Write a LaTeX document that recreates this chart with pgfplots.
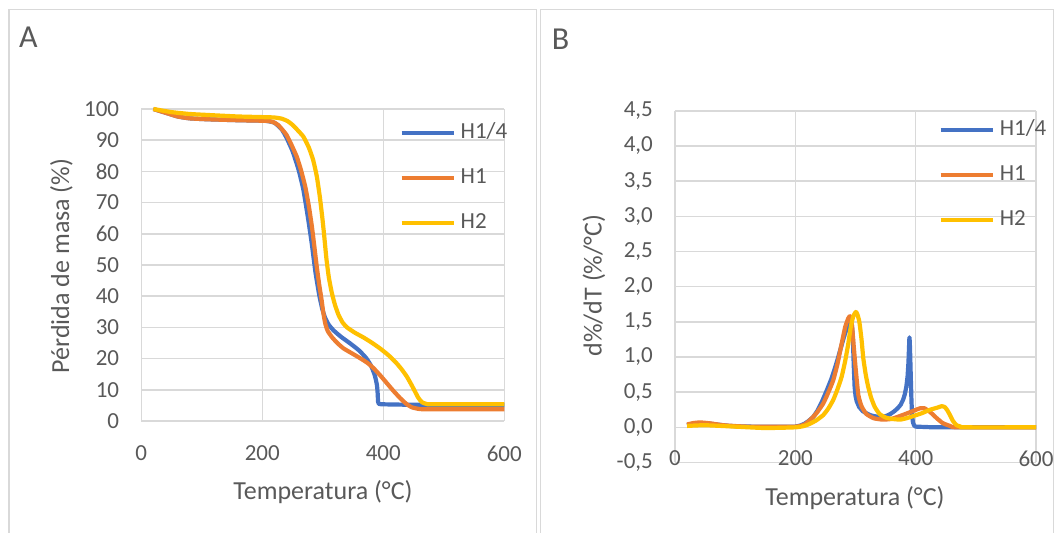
\documentclass[border=0pt]{standalone}
\usepackage{pgfplots}
\pgfplotsset{compat=1.18}
\usepackage{fontspec}
\setmainfont{Carlito}
\definecolor{cblue}{HTML}{4472C4}
\definecolor{corange}{HTML}{ED7D31}
\definecolor{cyellow}{HTML}{FFC000}
\definecolor{ctext}{HTML}{595959}
\definecolor{cgrid}{HTML}{D9D9D9}
\newcommand{\tickfont}{\fontsize{23bp}{27bp}\selectfont}
\newcommand{\titlefont}{\fontsize{26bp}{30bp}\selectfont}
\pgfplotsset{
  excel/.style={
    scale only axis,
    anchor=south west,
    clip=false,
    axis line style={draw=none},
    major tick length=0pt,
    grid=major,
    major grid style={cgrid, line width=1.5bp},
    tick label style={font=\tickfont, text=ctext},
    /pgf/number format/assume math mode=true,
    yticklabel style={anchor=east, inner sep=0pt, xshift=-22bp},
    legend cell align=left,
    legend style={draw=none, fill=none, font=\tickfont, text=ctext,
      anchor=north west, row sep=24bp, column sep=5bp, inner sep=0pt,
      nodes={inner sep=0pt, text height=16bp, text depth=5bp}},
    legend image code/.code={\draw[#1] (0bp,0bp) -- (52bp,0bp);},
  },
  ser/.style={line width=4.2bp, smooth, tension=0.3, line join=round},
  serp/.style={line width=4.2bp, line join=round},
}
\begin{document}
\begin{tikzpicture}
\useasboundingbox (0,0) rectangle (1055bp,533bp);
\draw[cgrid, line width=1.5bp] (9bp,-5bp) -- (9bp,523.5bp) -- (536.7bp,523.5bp) -- (536.7bp,-5bp);
\draw[cgrid, line width=1.5bp] (540.3bp,-5bp) -- (540.3bp,523.5bp) -- (1053.5bp,523.5bp) -- (1053.5bp,-5bp);

% Panel A
\begin{axis}[excel,
  at={(141.3bp,112bp)}, width=363bp, height=312bp,
  xmin=0, xmax=600, ymin=0, ymax=100,
  xtick={0,200,400,600}, ytick={0,10,...,100},
  xticklabel style={anchor=center, yshift=-32.5bp},
  legend style={at={(axis description cs:0.7107,0.958)}},
]
\addplot[cblue, ser] table {
20 100
40 98.8
60 97.6
80 97.0
110 96.7
160 96.4
205 96.2
220 95.6
232 93.5
240 90.8
250 86.5
260 80.5
268 74.0
276 64.5
282 56.5
288 47.5
294 40.5
299 36.0
304 33.0
310 30.8
318 29.0
330 27.0
345 24.9
360 22.6
372 20.1
380 17.6
386 14.6
389.5 11.5
390.8 8.5
391.3 6.2
392.5 5.5
400 5.35
450 5.2
600 5.1
};
\addlegendentry{H1/4}
\addplot[corange, ser] table {
20 100
40 98.8
60 97.6
80 97.0
110 96.7
160 96.4
207 96.2
218 95.8
226 94.9
233 93.4
240 91.7
248 88.6
257 84.7
264 80.4
271 75.1
277 68.8
282 62.3
286 56.0
290 49.5
294 43.8
298 38.8
301 34.5
304 31.3
308 28.9
315 26.9
324 25.0
334 23.3
348 21.7
362 20.1
374 18.6
384 16.9
395 14.6
406 12.1
417 9.6
428 7.3
438 5.5
447 4.4
458 3.9
472 3.75
600 3.75
};
\addlegendentry{H1}
\addplot[cyellow, ser] table {
20 100
50 99.0
80 98.4
108 98.1
160 97.6
218 97.3
232 96.9
242 96.1
250 94.9
258 93.3
268 91.1
277 87.6
284 83.7
290 78.5
295 72.0
299 65.5
302 60.0
306 52.0
310 46.0
315 41.0
320 37.3
326 34.0
333 31.5
340 30.0
353 28.3
367 26.8
381 25.1
395 23.2
409 21.0
422 18.5
431 16.4
439 14.2
446 11.8
452 9.6
458 7.4
464 6.0
471 5.5
480 5.35
600 5.35
};
\addlegendentry{H2}
\end{axis}

% Panel B
\begin{axis}[excel,
  at={(675bp,70.5bp)}, width=361bp, height=351.7bp,
  xmin=0, xmax=600, ymin=-0.5, ymax=4.5,
  xtick={0,200,400,600},
  ytick={-0.5,0,0.5,1,1.5,2,2.5,3,3.5,4,4.5},
  yticklabels={{-0,5},{0,0},{0,5},{1,0},{1,5},{2,0},{2,5},{3,0},{3,5},{4,0},{4,5}},
  xticklabel style={anchor=center, yshift=4.1bp},
  legend style={at={(axis description cs:0.7296,0.9753)}},
]
\addplot[cblue, serp] table {
20 0.03
30 0.05
40 0.06
50 0.06
60 0.05
75 0.035
90 0.02
110 0.012
130 0.01
200 0.01
208 0.025
215 0.05
222 0.09
230 0.15
237 0.24
244 0.36
252 0.52
260 0.69
265 0.82
270 0.96
275 1.11
280 1.26
284 1.37
287 1.43
290 1.48
292 1.50
294 1.45
295.5 1.30
297 0.90
298.5 0.58
300 0.45
302 0.37
306 0.29
312 0.23
318 0.20
324 0.175
330 0.16
338 0.15
346 0.15
352 0.165
358 0.19
364 0.225
370 0.27
375 0.32
379 0.39
382 0.47
384.5 0.58
386.5 0.72
388 0.92
389 1.15
389.6 1.28
390.2 1.22
391 1.00
392 0.68
393 0.38
394 0.18
395.5 0.07
397.5 0.025
400 0.01
430 0.0
600 0.0
};
\addlegendentry{H1/4}
\addplot[corange, ser] table {
20 0.04
30 0.06
42 0.07
60 0.055
80 0.03
120 0.01
200 0.01
215 0.04
224 0.10
235 0.20
246.5 0.34
255 0.50
263 0.67
270 0.90
277 1.19
283 1.43
288 1.55
291 1.58
294 1.46
297 1.16
300 0.86
304.7 0.46
310 0.30
318 0.19
330 0.13
345 0.11
360 0.12
380 0.18
395 0.23
407 0.27
415 0.27
425 0.21
435 0.13
445 0.06
457 0.02
470 0.0
600 0.0
};
\addlegendentry{H1}
\addplot[cyellow, ser] table {
20 0.02
50 0.03
100 0.01
150 -0.01
200 0.0
215 0.02
224 0.05
235 0.10
246.5 0.175
255 0.27
263 0.39
270 0.54
277 0.72
283 0.95
288 1.19
292 1.42
296.3 1.58
300.5 1.64
303 1.61
306.4 1.50
310 1.25
313 0.98
317 0.75
321 0.58
326 0.42
332 0.29
340 0.19
350 0.14
360 0.12
374 0.11
385 0.13
396 0.16
410 0.20
424 0.25
436 0.28
443 0.30
448 0.29
452 0.25
457 0.175
462 0.09
468 0.03
475 0.01
480 0.0
600 0.0
};
\addlegendentry{H2}
\end{axis}

\node[anchor=base west, inner sep=0pt, text=ctext, font=\fontsize{32bp}{36bp}\selectfont] at (19bp,485.3bp) {A};
\node[anchor=base west, inner sep=0pt, text=ctext, font=\fontsize{32bp}{36bp}\selectfont] at (551.7bp,483.8bp) {B};
\node[anchor=base, inner sep=0pt, text=ctext, font=\titlefont] at (323bp,33.5bp) {Temperatura (°C)};
\node[anchor=base, inner sep=0pt, text=ctext, font=\titlefont, rotate=90] at (69bp,267bp) {Pérdida de masa (\%)};
\node[anchor=base, inner sep=0pt, text=ctext, font=\titlefont] at (855bp,27.2bp) {Temperatura (°C)};
\node[anchor=base, inner sep=0pt, text=ctext, font=\titlefont, rotate=90] at (601.7bp,247.4bp) {d\%/dT (\%/°C)};
\end{tikzpicture}
\end{document}
